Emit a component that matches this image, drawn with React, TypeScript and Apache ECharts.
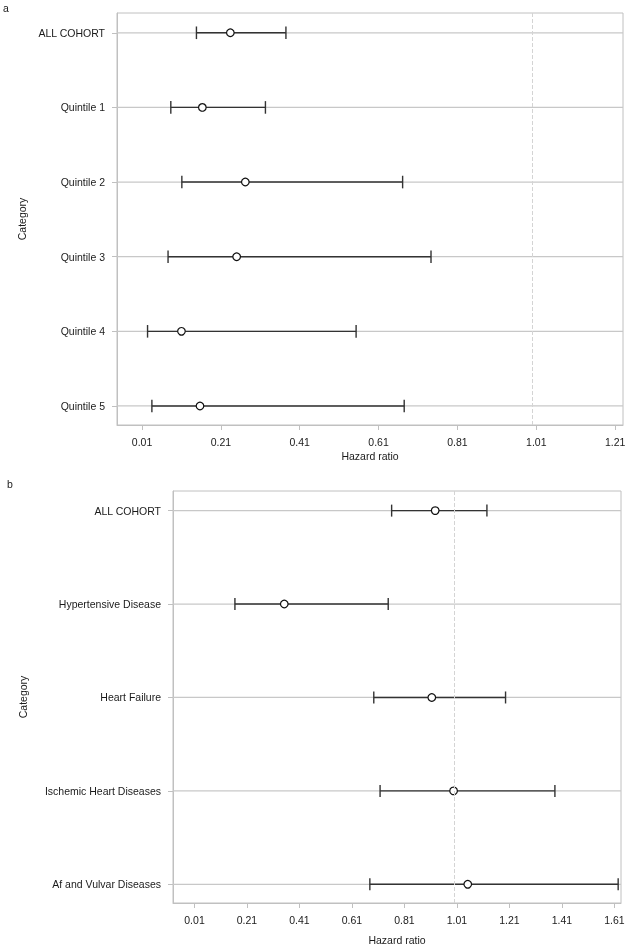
import React, { useEffect, useRef } from "react";
import * as echarts from "echarts";

// ---- Panel a data ----
const categoriesA = ["ALL COHORT", "Quintile 1", "Quintile 2", "Quintile 3", "Quintile 4", "Quintile 5"];
const lowerA = [0.148, 0.083, 0.111, 0.076, 0.024, 0.035];
const estimateA = [0.234, 0.163, 0.272, 0.25, 0.11, 0.157];
const upperA = [0.375, 0.323, 0.671, 0.743, 0.553, 0.675];
const xTicksA = [0.01, 0.21, 0.41, 0.61, 0.81, 1.01, 1.21];

// ---- Panel b data ----
const categoriesB = ["ALL COHORT", "Hypertensive Disease", "Heart Failure", "Ischemic Heart Diseases", "Af and Vulvar Diseases"];
const lowerB = [0.761, 0.164, 0.693, 0.717, 0.678];
const estimateB = [0.927, 0.352, 0.914, 0.997, 1.051];
const upperB = [1.124, 0.748, 1.195, 1.383, 1.624];
const xTicksB = [0.01, 0.21, 0.41, 0.61, 0.81, 1.01, 1.21, 1.41, 1.61];

const refLine = 1.0;
const xAxisName = "Hazard ratio";
const yAxisName = "Category";

const FONT = "'Liberation Sans', Arial, sans-serif";
const TEXT = "#1a1a1a";
const FRAME = "#c0c0c0";

const xRangeA = [-0.0535, 1.23];
const xRangeB = [-0.0719, 1.6348];

function makeRender(xMin: number, xMax: number, capHalf: number) {
  return (params: any, api: any) => {
    const y = api.value(0);
    const lo = api.value(1);
    const est = api.value(2);
    const hi = api.value(3);
    const g0 = api.coord([xMin, y]);
    const g1 = api.coord([xMax, y]);
    const pL = api.coord([lo, y]);
    const pE = api.coord([est, y]);
    const pH = api.coord([hi, y]);
    return {
      type: "group",
      children: [
        { type: "line", shape: { x1: g0[0], y1: g0[1], x2: g1[0], y2: g1[1] }, style: { stroke: "#c8c8c8", lineWidth: 1.2 }, z2: 1 },
        { type: "line", shape: { x1: pL[0], y1: pL[1], x2: pH[0], y2: pH[1] }, style: { stroke: "#333", lineWidth: 1.4 }, z2: 3 },
        { type: "line", shape: { x1: pL[0], y1: pL[1] - capHalf, x2: pL[0], y2: pL[1] + capHalf }, style: { stroke: "#333", lineWidth: 1.4 }, z2: 3 },
        { type: "line", shape: { x1: pH[0], y1: pH[1] - capHalf, x2: pH[0], y2: pH[1] + capHalf }, style: { stroke: "#333", lineWidth: 1.4 }, z2: 3 },
        { type: "circle", shape: { cx: pE[0], cy: pE[1], r: 3.8 }, style: { fill: "#fff", stroke: "#111", lineWidth: 1.2 }, z2: 4 },
      ],
    };
  };
}

function xAxisCfg(gridIndex: number, range: number[], ticks: number[], nameGap: number) {
  return {
    type: "value",
    gridIndex,
    min: range[0],
    max: range[1],
    name: xAxisName,
    nameLocation: "middle",
    nameGap,
    nameTextStyle: { fontFamily: FONT, fontSize: 10.5, color: TEXT },
    axisLine: { show: true, onZero: false, lineStyle: { color: FRAME, width: 1 } },
    axisTick: { show: true, length: 5, customValues: ticks, lineStyle: { color: FRAME } },
    axisLabel: {
      customValues: ticks,
      margin: 11,
      fontFamily: FONT,
      fontSize: 10.5,
      color: TEXT,
      formatter: (v: number) => v.toFixed(2),
    },
    splitLine: { show: false },
  };
}

function yAxisCfg(gridIndex: number, cats: string[], range: number[], nameGap: number) {
  const idx = cats.map((_, i) => i);
  return {
    type: "value",
    gridIndex,
    inverse: true,
    min: range[0],
    max: range[1],
    name: yAxisName,
    nameLocation: "middle",
    nameGap,
    nameTextStyle: { fontFamily: FONT, fontSize: 10.5, color: TEXT },
    axisLine: { show: true, onZero: false, lineStyle: { color: FRAME, width: 1 } },
    axisTick: { show: true, length: 5, customValues: idx, lineStyle: { color: FRAME } },
    axisLabel: {
      customValues: idx,
      margin: 12,
      fontFamily: FONT,
      fontSize: 10.5,
      color: TEXT,
      formatter: (v: number) => cats[Math.round(v)] ?? "",
    },
    splitLine: { show: false },
  };
}

export default function App() {
  const ref = useRef<HTMLDivElement>(null);
  useEffect(() => {
    if (!ref.current) return;
    const chart = echarts.init(ref.current, undefined, { renderer: "svg" });
    const dataA = categoriesA.map((_, i) => [i, lowerA[i], estimateA[i], upperA[i]]);
    const dataB = categoriesB.map((_, i) => [i, lowerB[i], estimateB[i], upperB[i]]);
    const markLine = {
      silent: true,
      symbol: "none",
      label: { show: false },
      lineStyle: { type: "dashed", color: "#d4d4d4", width: 1 },
      data: [{ xAxis: refLine }],
    };
    chart.setOption({
      animation: false,
      textStyle: { fontFamily: FONT },
      grid: [
        { left: 117, top: 13, width: 506, height: 412, show: true, borderColor: FRAME, borderWidth: 1, backgroundColor: "transparent", containLabel: false, outerBoundsMode: "none" },
        { left: 173, top: 491, width: 448, height: 412, show: true, borderColor: FRAME, borderWidth: 1, backgroundColor: "transparent", containLabel: false, outerBoundsMode: "none" },
      ],
      xAxis: [xAxisCfg(0, xRangeA, xTicksA, 25), xAxisCfg(1, xRangeB, xTicksB, 31)],
      yAxis: [yAxisCfg(0, categoriesA, [-0.265, 5.255], 89), yAxisCfg(1, categoriesB, [-0.21, 4.2], 145)],
      graphic: [
        { type: "text", left: 3, top: 2, style: { text: "a", fontFamily: FONT, fontSize: 10.5, fill: TEXT } },
        { type: "text", left: 7, top: 478, style: { text: "b", fontFamily: FONT, fontSize: 10.5, fill: TEXT } },
      ],
      series: [
        {
          type: "custom",
          xAxisIndex: 0,
          yAxisIndex: 0,
          data: dataA,
          encode: { x: [1, 2, 3], y: 0 },
          renderItem: makeRender(xRangeA[0], xRangeA[1], 6.3),
          markLine,
        },
        {
          type: "custom",
          xAxisIndex: 1,
          yAxisIndex: 1,
          data: dataB,
          encode: { x: [1, 2, 3], y: 0 },
          renderItem: makeRender(xRangeB[0], xRangeB[1], 6),
          markLine,
        },
      ],
    });
    return () => chart.dispose();
  }, []);
  return <div ref={ref} style={{ position: "fixed", left: 0, top: 0, width: 625, height: 945 }} />;
}
